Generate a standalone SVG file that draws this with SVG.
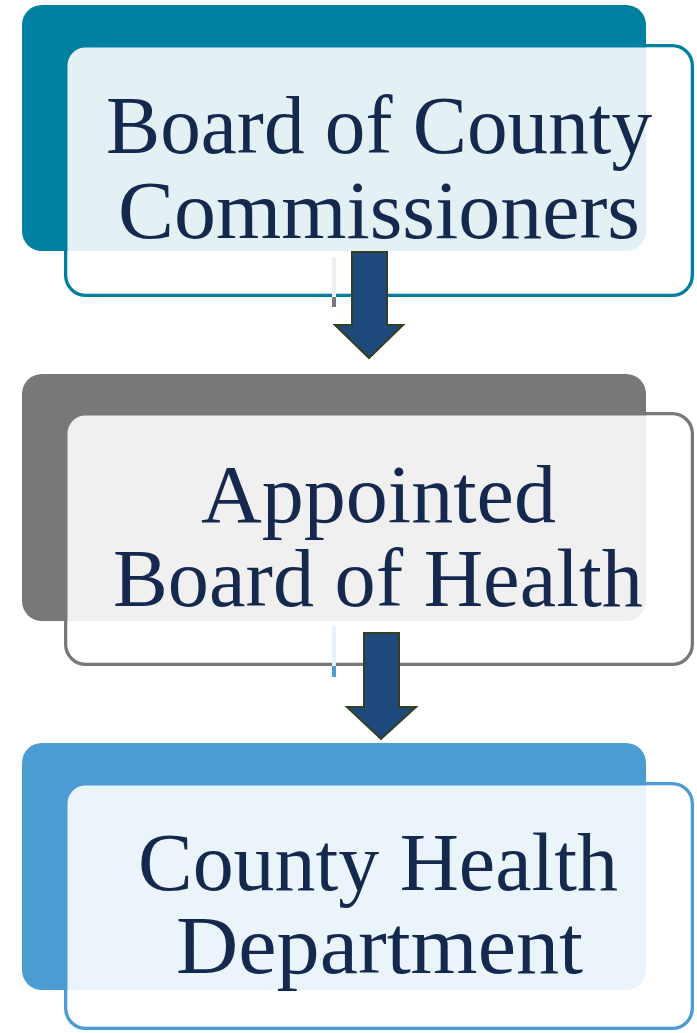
<svg xmlns="http://www.w3.org/2000/svg" width="697" height="1033" viewBox="0 0 697 1033">
<style>
.frame{fill:#ffffff;stroke-width:3.5}
.veil{fill:#ffffff;fill-opacity:0.89;stroke:none}
.lbl{font-family:"Liberation Serif","Times New Roman",serif;font-size:82px;fill:#15294F;text-anchor:middle}
.arrow{fill:#1F497D;stroke:#333F1F;stroke-width:2;stroke-linejoin:miter}
</style>
<rect width="697" height="1033" fill="#ffffff"/>
<g id="node-board-commissioners">
<rect class="frame" x="65.75" y="45.75" width="626.5" height="249.5" rx="20" stroke="#0080A0"/>
<rect x="22" y="5" width="624" height="246" rx="20" fill="#0080A0"/>
<rect class="veil" x="67.5" y="47.5" width="623" height="246" rx="18"/>
<text class="lbl" x="379" y="153" textLength="546" lengthAdjust="spacingAndGlyphs">Board of County</text>
<text class="lbl" x="379" y="238" textLength="522" lengthAdjust="spacingAndGlyphs">Commissioners</text>
</g>
<g id="node-board-health">
<rect class="frame" x="65.75" y="413.75" width="626.5" height="250.5" rx="20" stroke="#787878"/>
<rect x="22" y="374" width="624" height="247" rx="20" fill="#787878"/>
<rect class="veil" x="67.5" y="415.5" width="623" height="247" rx="18"/>
<text class="lbl" x="378.5" y="522" textLength="355" lengthAdjust="spacingAndGlyphs">Appointed</text>
<text class="lbl" x="378" y="606" textLength="530" lengthAdjust="spacingAndGlyphs">Board of Health</text>
</g>
<g id="node-health-department">
<rect class="frame" x="65.75" y="783.75" width="626.5" height="244.5" rx="20" stroke="#4B9CD3"/>
<rect x="22" y="743" width="624" height="247" rx="20" fill="#4B9CD3"/>
<rect class="veil" x="67.5" y="785.5" width="623" height="241" rx="18"/>
<text class="lbl" x="378" y="890" textLength="480" lengthAdjust="spacingAndGlyphs">County Health</text>
<text class="lbl" x="379.5" y="973" textLength="407" lengthAdjust="spacingAndGlyphs">Department</text>
</g>
<g id="connectors">
<rect x="332" y="257" width="4" height="40" fill="#EFEFEF"/>
<rect x="332" y="297" width="4" height="10" fill="#787878"/>
<rect x="332" y="626" width="4" height="40" fill="#E9F1F9"/>
<rect x="332" y="666" width="4" height="11" fill="#4B9CD3"/>
<polygon class="arrow" points="352,252 387,252 387,325 403,325 369,358 335,325 352,325"/>
<polygon class="arrow" points="364,633 399,633 399,707 416,707 381,739 347,707 364,707"/>
</g>
</svg>
